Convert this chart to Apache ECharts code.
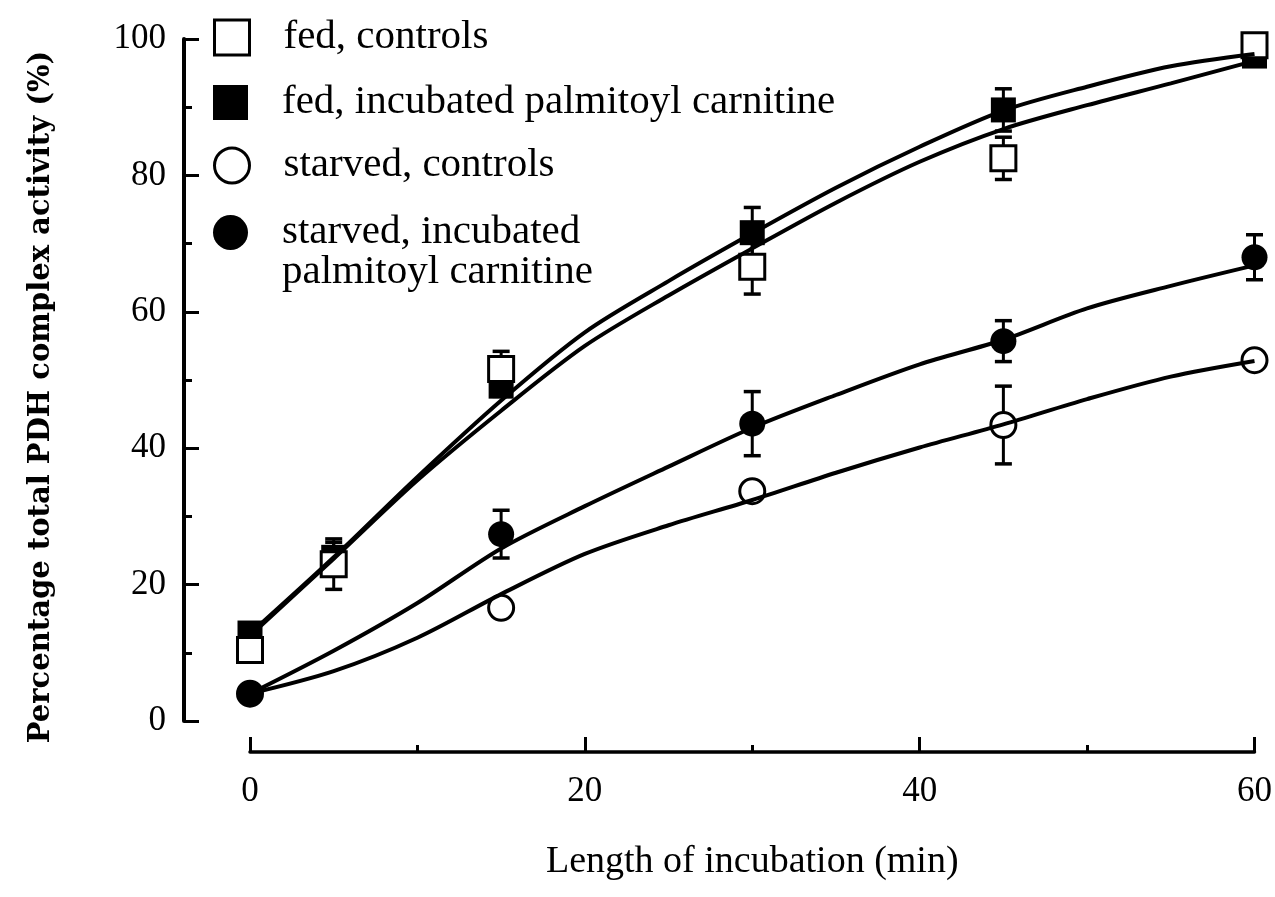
<!DOCTYPE html>
<html><head><meta charset="utf-8">
<script src="https://cdn.jsdelivr.net/npm/echarts@6/dist/echarts.min.js"></script>
<style>html,body{margin:0;padding:0;background:#fff}#c{width:1275px;height:897px}</style>
</head><body><div id="c"></div>
<script>
// ---- data ----
const fedTimes = [0, 5, 15, 30, 45, 60];
const starvedTimes = [0, 15, 30, 45, 60];

const fedControls = [10.4, 23.0, 51.6, 66.6, 82.5, 99.1];
const fedControlsErr = [0, 3.7, 2.6, 4.0, 3.1, 0];
const fedPalm = [12.9, 24.0, 49.1, 71.6, 89.6, 97.5];
const fedPalmErr = [0, 2.2, 1.5, 3.7, 3.1, 0];

const starvedControls = [4.0, 16.6, 33.7, 43.4, 52.9];
const starvedControlsErr = [0, 0, 0, 5.7, 0];
const starvedPalm = [4.0, 27.4, 43.6, 55.7, 68.0];
const starvedPalmErr = [0, 3.5, 4.7, 3.0, 3.3];

// fitted curves
const curveX = [0, 5, 10, 15, 20, 25, 30, 35, 40, 45, 50, 55, 60];
const fedPalmCurve = [12.8, 24.0, 35.8, 47.0, 57.0, 64.5, 71.5, 78.2, 84.2, 89.5, 93.0, 96.0, 97.8];
const fedControlsCurve = [12.5, 23.8, 35.3, 45.5, 55.0, 62.4, 69.3, 76.0, 82.0, 86.8, 90.3, 93.5, 96.8];
const starvedPalmCurve = [4.0, 10.3, 17.3, 25.3, 31.5, 37.3, 43.0, 47.8, 52.3, 55.9, 60.5, 63.8, 66.8];
const starvedControlsCurve = [4.0, 7.3, 12.2, 18.6, 24.5, 28.7, 32.4, 36.4, 40.1, 43.5, 47.2, 50.5, 52.8];

const xTickLabels = ['0', '20', '40', '60'];
const yTickLabels = ['0', '20', '40', '60', '80', '100'];

const names = ['fed, controls', 'fed, incubated palmitoyl carnitine', 'starved, controls', 'starved, incubated palmitoyl carnitine'];

// ---- helpers ----
const pairs = (xs, ys) => xs.map((x, i) => [x, ys[i]]);
const errData = (xs, ys, es) => xs.map((x, i) => [x, ys[i] - es[i], ys[i] + es[i], es[i]]).filter(d => d[3] > 0);

const serif = 'Liberation Serif';
const openStyle = { color: '#fff', borderColor: '#000', borderWidth: 3, opacity: 1 };
const fillStyle = { color: '#000', borderColor: '#000', borderWidth: 0, opacity: 1 };

function errSeries(xs, ys, es) {
  return {
    type: 'custom', z: 1, silent: true, clip: false,
    data: errData(xs, ys, es),
    encode: { x: 0, y: [1, 2] },
    renderItem(params, api) {
      const x = api.value(0), lo = api.value(1), hi = api.value(2);
      const a = api.coord([x, lo]), b = api.coord([x, hi]);
      const w = 8.5;
      return { type: 'group', children: [
        { type: 'line', shape: { x1: a[0], y1: a[1], x2: b[0], y2: b[1] }, style: { stroke: '#000', lineWidth: 3 } },
        { type: 'line', shape: { x1: a[0] - w, y1: a[1], x2: a[0] + w, y2: a[1] }, style: { stroke: '#000', lineWidth: 3.5 } },
        { type: 'line', shape: { x1: b[0] - w, y1: b[1], x2: b[0] + w, y2: b[1] }, style: { stroke: '#000', lineWidth: 3.5 } }
      ] };
    }
  };
}
function curve(ys) {
  return { type: 'line', z: 4, data: pairs(curveX, ys), smooth: 0.3, symbol: 'none', clip: false,
    lineStyle: { color: '#000', width: 4, opacity: 1 }, silent: true };
}
function scatter(name, xs, ys, sym, style, size) {
  return { type: 'scatter', name, z: 3, data: pairs(xs, ys), symbol: sym, symbolSize: size,
    itemStyle: style, silent: true };
}

function legendRow(name, icon, style, top, text) {
  return {
    left: 213, top, orient: 'vertical', padding: 0, itemWidth: 35, itemHeight: 35,
    selectedMode: false,
    formatter: () => text,
    textStyle: { fontFamily: serif, fontSize: 41, color: '#000', lineHeight: 40, padding: [0, 0, 0, 29] },
    data: [{ name, icon, itemStyle: style }]
  };
}

const option = {
  animation: false,
  backgroundColor: '#fff',
  grid: { left: 250, right: 20, top: 39, bottom: 176, containLabel: false },
  legend: [
    legendRow(names[0], 'rect', openStyle, 17, names[0]),
    legendRow(names[1], 'rect', fillStyle, 82, names[1]),
    legendRow(names[2], 'circle', openStyle, 145, names[2]),
    legendRow(names[3], 'circle', fillStyle, 172, ' \nstarved, incubated\npalmitoyl carnitine')
  ],
  xAxis: {
    type: 'value', min: 0, max: 60, interval: 20, offset: 31,
    axisLine: { show: true, onZero: false, lineStyle: { color: '#000', width: 3.5 } },
    axisTick: { show: true, inside: true, length: 15, lineStyle: { color: '#000', width: 3 } },
    minorTick: { show: true, splitNumber: 2, length: 7, lineStyle: { color: '#000', width: 3 } },
    splitLine: { show: false },
    axisLabel: { margin: 22, fontFamily: serif, fontSize: 35, color: '#000',
      formatter: v => xTickLabels[Math.round(v / 20)] },
    name: 'Length of incubation (min)', nameLocation: 'middle', nameGap: 91,
    nameTextStyle: { fontFamily: serif, fontSize: 38, color: '#000' }
  },
  yAxis: {
    type: 'value', min: 0, max: 100, interval: 20, offset: 66,
    axisLine: { show: true, onZero: false, lineStyle: { color: '#000', width: 4 } },
    axisTick: { show: true, inside: true, length: 15, lineStyle: { color: '#000', width: 3 } },
    minorTick: { show: true, splitNumber: 2, length: 8, lineStyle: { color: '#000', width: 3 } },
    splitLine: { show: false },
    axisLabel: { margin: 18, fontFamily: serif, fontSize: 35, color: '#000',
      formatter: v => yTickLabels[Math.round(v / 20)] },
    name: 'Percentage total PDH complex activity (%)', nameLocation: 'middle', nameGap: 128,
    nameTextStyle: { fontFamily: 'DejaVu Serif', fontWeight: 'bold', fontSize: 29, color: '#000', padding: [0, 34, 0, 0] }
  },
  series: [
    errSeries(fedTimes, fedControls, fedControlsErr),
    errSeries(fedTimes, fedPalm, fedPalmErr),
    errSeries(starvedTimes, starvedControls, starvedControlsErr),
    errSeries(starvedTimes, starvedPalm, starvedPalmErr),
    curve(fedPalmCurve),
    curve(fedControlsCurve),
    curve(starvedPalmCurve),
    curve(starvedControlsCurve),
    scatter(names[1], fedTimes, fedPalm, 'rect', fillStyle, 25),
    scatter(names[0], fedTimes, fedControls, 'rect', openStyle, 25),
    scatter(names[2], starvedTimes, starvedControls, 'circle', openStyle, 25),
    scatter(names[3], starvedTimes, starvedPalm, 'circle', fillStyle, 26)
  ]
};
const chart = echarts.init(document.getElementById('c'), null, { renderer: 'canvas' });
chart.setOption(option);
</script>
</body></html>
